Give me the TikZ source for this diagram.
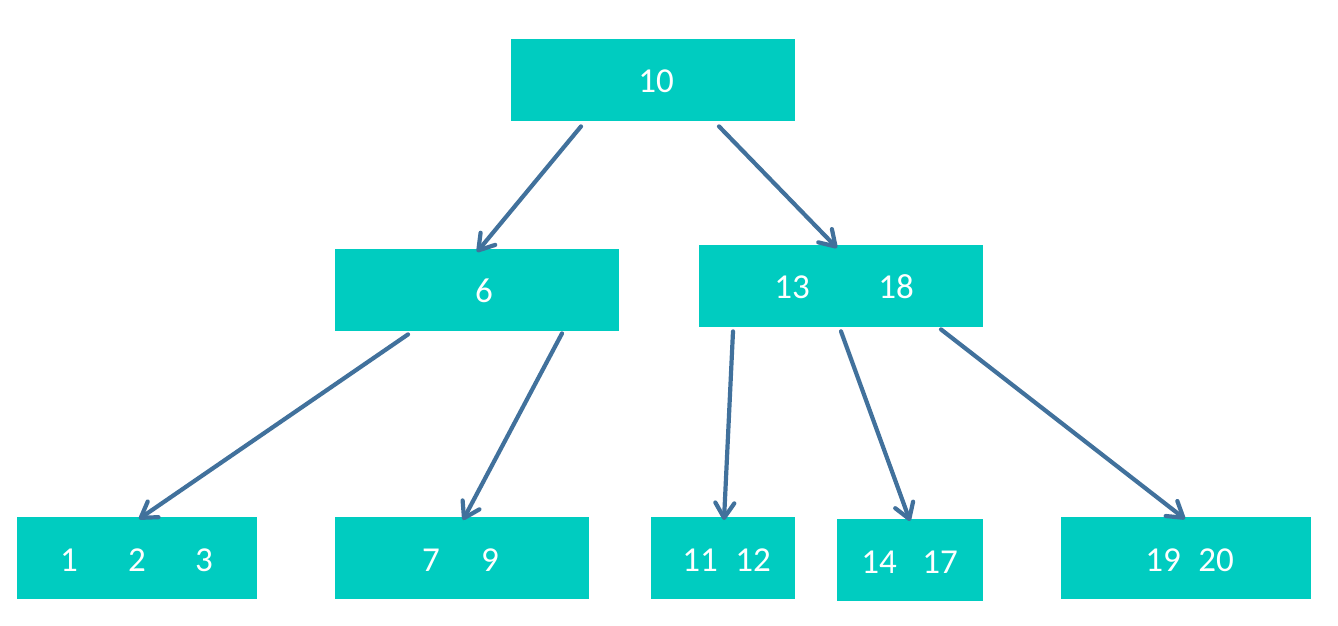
\documentclass[tikz,border=0pt]{standalone}
\usepackage{fontspec}
\setmainfont{Carlito}
\usetikzlibrary{arrows.meta}
\definecolor{boxteal}{RGB}{0,204,192}
\definecolor{arrowblue}{RGB}{65,113,156}
\tikzset{
  box/.style={fill=boxteal, draw=none, inner sep=0pt, anchor=north west},
  num/.style={text=white, font=\fontsize{35}{42}\selectfont, inner sep=0pt, anchor=center},
  link/.style={draw=arrowblue, line width=4.2pt, line cap=round, -{Straight Barb[length=15pt,width=19pt,line width=4.2pt,round]}},
}
\begin{document}
\begin{tikzpicture}[x=1pt,y=-1pt]
\useasboundingbox (0,0) rectangle (1338,625);
% boxes
\node[box, minimum width=284pt, minimum height=82pt] (root) at (511,39) {};
\node[box, minimum width=284pt, minimum height=82pt] (six) at (335,249) {};
\node[box, minimum width=284pt, minimum height=82pt] (mid) at (699,245) {};
\node[box, minimum width=240pt, minimum height=82pt] (la) at (17,517) {};
\node[box, minimum width=254pt, minimum height=82pt] (lb) at (335,517) {};
\node[box, minimum width=144pt, minimum height=82pt] (lc) at (651,517) {};
\node[box, minimum width=146pt, minimum height=82pt] (ld) at (837,519) {};
\node[box, minimum width=250pt, minimum height=82pt] (le) at (1061,517) {};
% texts
\node[num] (t10) at (656,81) {10};
\node[num] (t6) at (484,291) {6};
\node[num] (t13) at (792,287) {13};
\node[num] (t18) at (896,287) {18};
\node[num] (t1) at (69,560) {1};
\node[num] (t2) at (137,560) {2};
\node[num] (t3) at (204,560) {3};
\node[num] (t7) at (431,560) {7};
\node[num] (t9) at (490,560) {9};
\node[num] (t11) at (700,560) {11};
\node[num] (t12) at (753,560) {12};
\node[num] (t14) at (879,562) {14};
\node[num] (t17) at (940,562) {17};
\node[num] (t19) at (1163,560) {19};
\node[num] (t20) at (1216,560) {20};
% connectors
\draw[link] ([xshift=70pt,yshift=-5pt]root.south west) -- ([xshift=142pt,yshift=-3pt]six.north west);
\draw[link] ([xshift=208pt,yshift=-5pt]root.south west) -- ([xshift=138pt,yshift=-3pt]mid.north west);
\draw[link] ([xshift=73pt,yshift=-3pt]six.south west) -- ([xshift=122pt,yshift=-2pt]la.north west);
\draw[link] ([xshift=227pt,yshift=-2pt]six.south west) -- ([xshift=128pt,yshift=-3pt]lb.north west);
\draw[link] ([xshift=34pt,yshift=-4pt]mid.south west) -- ([xshift=73pt,yshift=-3pt]lc.north west);
\draw[link] ([xshift=142pt,yshift=-4pt]mid.south west) -- ([xshift=73pt,yshift=-2pt]ld.north west);
\draw[link] ([xshift=242pt,yshift=-2pt]mid.south west) -- ([xshift=124pt,yshift=-2pt]le.north west);
\end{tikzpicture}
\end{document}
